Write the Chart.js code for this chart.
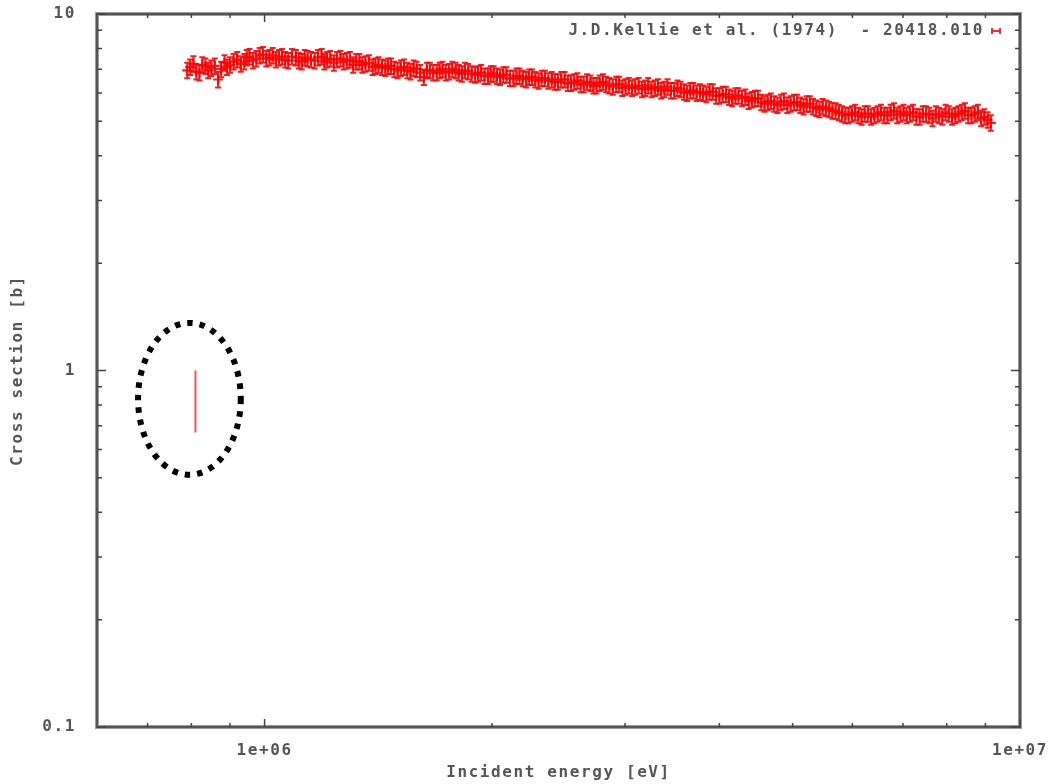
<!DOCTYPE html>
<html>
<head>
<meta charset="utf-8">
<script src="https://cdn.jsdelivr.net/npm/chart.js@4/dist/chart.umd.min.js"></script>
<style>
  html, body { margin: 0; padding: 0; background: #fff; }
  canvas { display: block; }
</style>
</head>
<body>
<canvas id="xsChart" width="1058" height="784"></canvas>
<script>
// incident energy in MeV (converted to eV for the axis), first pass of readings
const energyMeV = [
  0.79, 0.805, 0.82, 0.835, 0.85, 0.868, 0.885, 0.90, 0.92, 0.94,
  0.955, 0.975, 0.995, 1.015, 1.035, 1.055, 1.075, 1.10, 1.12, 1.14,
  1.165, 1.19, 1.21, 1.235, 1.26, 1.285, 1.31, 1.335, 1.36, 1.39,
  1.415, 1.445, 1.47, 1.50, 1.53, 1.56, 1.59, 1.625, 1.655, 1.69,
  1.72, 1.755, 1.79, 1.825, 1.86, 1.90, 1.935, 1.975, 2.01, 2.05,
  2.09, 2.135, 2.175, 2.22, 2.26, 2.305, 2.35, 2.40, 2.445, 2.495,
  2.545, 2.595, 2.645, 2.70, 2.75, 2.805, 2.86, 2.92, 2.975, 3.035,
  3.095, 3.16, 3.22, 3.285, 3.35, 3.415, 3.485, 3.555, 3.625, 3.695,
  3.77, 3.845, 3.92, 4.0, 4.08, 4.16, 4.24, 4.33, 4.415, 4.50,
  4.59, 4.68, 4.775, 4.87, 4.97, 5.07, 5.17, 5.27, 5.375, 5.48,
  5.59, 5.70, 5.815, 5.93, 6.05, 6.17, 6.29, 6.415, 6.545, 6.675,
  6.81, 6.945, 7.08, 7.22, 7.365, 7.51, 7.66, 7.815, 7.97, 8.13,
  8.29, 8.455, 8.625, 8.795, 8.97, 9.15
];
// cross section in barns
const crossSection = [
  6.95, 7.25, 6.85, 7.15, 7.05, 6.55, 7.30, 7.20, 7.45, 7.35,
  7.60, 7.50, 7.70, 7.55, 7.45, 7.60, 7.40, 7.55, 7.35, 7.50,
  7.40, 7.60, 7.45, 7.30, 7.50, 7.40, 7.20, 7.35, 7.25, 7.10,
  7.20, 7.05, 7.15, 6.95, 7.10, 6.90, 7.00, 6.65, 6.95, 6.85,
  7.00, 6.90, 6.95, 6.80, 6.90, 6.75, 6.85, 6.70, 6.80, 6.65,
  6.75, 6.60, 6.70, 6.55, 6.65, 6.50, 6.60, 6.55, 6.45, 6.55,
  6.40, 6.50, 6.35, 6.40, 6.30, 6.45, 6.30, 6.35, 6.20, 6.30,
  6.25, 6.15, 6.30, 6.20, 6.10, 6.25, 6.10, 6.15, 6.00, 6.10,
  6.05, 5.95, 6.05, 5.90, 5.95, 5.80, 5.90, 5.85, 5.75, 5.80,
  5.60, 5.70, 5.55, 5.70, 5.60, 5.65, 5.50, 5.60, 5.45, 5.50,
  5.40, 5.35, 5.25, 5.20, 5.30, 5.15, 5.25, 5.20, 5.30, 5.20,
  5.35, 5.25, 5.20, 5.30, 5.15, 5.25, 5.10, 5.20, 5.30, 5.15,
  5.25, 5.35, 5.20, 5.30, 5.15, 4.95
];
// second pass of readings, in between the first
const energyMeV2 = [
  0.797, 0.812, 0.827, 0.842, 0.859, 0.876, 0.892, 0.91, 0.93, 0.947,
  0.965, 0.985, 1.005, 1.025, 1.045, 1.065, 1.087, 1.11, 1.13, 1.152,
  1.177, 1.20, 1.222, 1.247, 1.272, 1.297, 1.322, 1.347, 1.375, 1.402,
  1.43, 1.457, 1.485, 1.515, 1.545, 1.575, 1.607, 1.64, 1.672, 1.705,
  1.737, 1.772, 1.807, 1.842, 1.88, 1.917, 1.955, 1.992, 2.03, 2.07,
  2.112, 2.155, 2.197, 2.24, 2.282, 2.327, 2.375, 2.422, 2.47, 2.52,
  2.57, 2.62, 2.672, 2.725, 2.777, 2.832, 2.89, 2.947, 3.005, 3.065,
  3.127, 3.19, 3.252, 3.317, 3.382, 3.45, 3.52, 3.59, 3.66, 3.732,
  3.807, 3.882, 3.96, 4.04, 4.12, 4.20, 4.285, 4.372, 4.457, 4.545,
  4.635, 4.727, 4.822, 4.92, 5.02, 5.12, 5.22, 5.322, 5.427, 5.535,
  5.645, 5.757, 5.872, 5.99, 6.11, 6.23, 6.352, 6.48, 6.61, 6.742,
  6.877, 7.012, 7.15, 7.292, 7.437, 7.585, 7.737, 7.892, 8.05, 8.21,
  8.372, 8.54, 8.71, 8.882, 9.06
];
const crossSection2 = [
  7.10, 6.90, 7.20, 6.95, 7.15, 7.00, 7.10, 7.35, 7.25, 7.55,
  7.40, 7.65, 7.50, 7.65, 7.55, 7.45, 7.60, 7.40, 7.55, 7.45,
  7.55, 7.35, 7.50, 7.45, 7.35, 7.45, 7.35, 7.20, 7.30, 7.15,
  7.10, 7.15, 7.00, 7.05, 6.95, 7.05, 6.85, 6.95, 6.85, 6.95,
  6.85, 7.00, 6.85, 6.95, 6.80, 6.80, 6.70, 6.80, 6.70, 6.75,
  6.60, 6.70, 6.60, 6.65, 6.55, 6.60, 6.50, 6.45, 6.55, 6.40,
  6.45, 6.35, 6.45, 6.30, 6.40, 6.35, 6.25, 6.35, 6.25, 6.20,
  6.30, 6.20, 6.15, 6.25, 6.15, 6.10, 6.20, 6.05, 6.10, 6.00,
  6.00, 6.05, 5.90, 5.95, 5.85, 5.90, 5.80, 5.70, 5.80, 5.65,
  5.65, 5.60, 5.65, 5.55, 5.65, 5.55, 5.60, 5.50, 5.40, 5.45,
  5.35, 5.30, 5.20, 5.25, 5.20, 5.25, 5.15, 5.25, 5.20, 5.30,
  5.20, 5.30, 5.25, 5.15, 5.25, 5.20, 5.25, 5.15, 5.25, 5.20,
  5.30, 5.20, 5.25, 5.10, 5.05
];
const relError = 0.05;

const seriesLabel = 'J.D.Kellie et al. (1974)  - 20418.010';

const xTicks = [1e6, 1e7];
const xTickLabels = ['1e+06', '1e+07'];
const yTicks = [0.1, 1, 10];
const yTickLabels = ['0.1', '1', '10'];
const xMinor = [7e5, 8e5, 9e5, 2e6, 3e6, 4e6, 5e6, 6e6, 7e6, 8e6, 9e6];
const yMinor = [0.2, 0.3, 0.4, 0.5, 0.6, 0.7, 0.8, 0.9, 2, 3, 4, 5, 6, 7, 8, 9];

// highlighted mark (red segment) and the dotted ring around it
const markEnergy = 8.1e5;
const markRange = [0.67, 1.0];
const ringEnergy = [6.8e5, 9.3e5];
const ringRange = [0.51, 1.36];

const points = energyMeV.map((e, i) => ({ x: e * 1e6, y: crossSection[i] }))
  .concat(energyMeV2.map((e, i) => ({ x: e * 1e6, y: crossSection2[i] })));

const textFont = { family: 'DejaVu Sans Mono', size: 16, weight: 'bold' };
const textColor = '#555';
const red = 'rgba(255,0,0,0.9)';

const framePlugin = {
  id: 'gnuplotFrame',
  beforeDraw(chart) {
    chart.ctx.letterSpacing = '1.6px';
  },
  beforeDatasetsDraw(chart) {
    const { ctx, scales: { x, y } } = chart;
    // error bars
    ctx.save();
    ctx.strokeStyle = red;
    ctx.lineWidth = 2;
    points.forEach(p => {
      const px = x.getPixelForValue(p.x);
      const y1 = y.getPixelForValue(p.y * (1 + relError));
      const y2 = y.getPixelForValue(p.y * (1 - relError));
      ctx.beginPath();
      ctx.moveTo(px, y1); ctx.lineTo(px, y2);
      ctx.moveTo(px - 3, y1); ctx.lineTo(px + 3, y1);
      ctx.moveTo(px - 3, y2); ctx.lineTo(px + 3, y2);
      ctx.stroke();
    });
    ctx.restore();
  },
  afterDatasetsDraw(chart) {
    const { ctx, chartArea: a, scales: { x, y } } = chart;
    ctx.save();
    // frame
    ctx.strokeStyle = '#9a9a9a';
    ctx.lineWidth = 4;
    ctx.strokeRect(a.left, a.top, a.right - a.left, a.bottom - a.top);
    ctx.strokeStyle = '#555';
    ctx.lineWidth = 2;
    ctx.strokeRect(a.left, a.top, a.right - a.left, a.bottom - a.top);
    // inward ticks on all four sides
    ctx.strokeStyle = '#444';
    ctx.lineWidth = 1.5;
    const tick = (v, len, axis) => {
      ctx.beginPath();
      if (axis === 'x') {
        const px = x.getPixelForValue(v);
        ctx.moveTo(px, a.bottom); ctx.lineTo(px, a.bottom - len);
        ctx.moveTo(px, a.top); ctx.lineTo(px, a.top + len);
      } else {
        const py = y.getPixelForValue(v);
        ctx.moveTo(a.left, py); ctx.lineTo(a.left + len, py);
        ctx.moveTo(a.right, py); ctx.lineTo(a.right - len, py);
      }
      ctx.stroke();
    };
    xMinor.forEach(v => tick(v, 4, 'x'));
    xTicks.forEach(v => tick(v, 8, 'x'));
    yMinor.forEach(v => tick(v, 5, 'y'));
    yTicks.forEach(v => tick(v, 9, 'y'));

    // key
    ctx.font = 'bold 16px "DejaVu Sans Mono"';
    ctx.fillStyle = textColor;
    ctx.textAlign = 'right';
    ctx.textBaseline = 'middle';
    ctx.fillText(seriesLabel, a.right - 36, a.top + 17);
    const kx = a.right - 24, ky = a.top + 17;
    ctx.strokeStyle = 'rgba(255,0,0,0.85)';
    ctx.lineWidth = 2;
    ctx.beginPath();
    ctx.moveTo(kx - 4, ky); ctx.lineTo(kx + 4, ky);
    ctx.moveTo(kx - 4, ky - 3); ctx.lineTo(kx - 4, ky + 3);
    ctx.moveTo(kx + 4, ky - 3); ctx.lineTo(kx + 4, ky + 3);
    ctx.stroke();

    // highlighted segment
    const mx = x.getPixelForValue(markEnergy);
    ctx.strokeStyle = 'rgba(255,50,50,0.85)';
    ctx.lineWidth = 2;
    ctx.beginPath();
    ctx.moveTo(mx, y.getPixelForValue(markRange[1]));
    ctx.lineTo(mx, y.getPixelForValue(markRange[0]));
    ctx.stroke();

    // dotted ring
    const l = x.getPixelForValue(ringEnergy[0]), r = x.getPixelForValue(ringEnergy[1]);
    const t = y.getPixelForValue(ringRange[1]), b = y.getPixelForValue(ringRange[0]);
    ctx.strokeStyle = '#000';
    ctx.lineWidth = 6;
    ctx.setLineDash([5.5, 7]);
    ctx.beginPath();
    ctx.ellipse((l + r) / 2, (t + b) / 2, (r - l) / 2, (b - t) / 2, 0, 0, Math.PI * 2);
    ctx.stroke();
    ctx.restore();
  }
};

new Chart(document.getElementById('xsChart'), {
  type: 'scatter',
  data: {
    datasets: [{
      label: seriesLabel,
      data: points,
      pointStyle: 'cross',
      radius: 5,
      borderWidth: 2.2,
      borderColor: red,
      backgroundColor: red,
      showLine: false,
    }],
  },
  options: {
    responsive: false,
    animation: false,
    devicePixelRatio: 1,
    layout: { padding: { top: 14, right: 38, left: 0, bottom: 0 } },
    plugins: {
      legend: { display: false },
      tooltip: { enabled: false },
    },
    scales: {
      x: {
        type: 'logarithmic',
        min: 6e5,
        max: 1e7,
        afterFit: s => { s.height = 57; s.paddingLeft = 0; s.paddingRight = 0; },
        afterBuildTicks: s => { s.ticks = xTicks.map(v => ({ value: v })); },
        ticks: {
          callback: (v, i) => xTickLabels[i],
          font: textFont, color: textColor,
          padding: 6, maxRotation: 0, autoSkip: false,
        },
        grid: { display: false },
        border: { display: false },
        title: {
          display: true, text: 'Incident energy [eV]',
          font: textFont, color: textColor,
          padding: { top: 0, bottom: 2 },
        },
      },
      y: {
        type: 'logarithmic',
        min: 0.1,
        max: 10,
        afterFit: s => { s.width = 97; s.paddingTop = 0; s.paddingBottom = 0; },
        afterBuildTicks: s => { s.ticks = yTicks.map(v => ({ value: v })); },
        ticks: {
          callback: (v, i) => yTickLabels[i],
          font: textFont, color: textColor,
          padding: 13, autoSkip: false,
        },
        grid: { display: false },
        border: { display: false },
        title: {
          display: true, text: 'Cross section [b]',
          font: textFont, color: textColor,
          padding: { top: 8, bottom: 0 },
        },
      },
    },
  },
  plugins: [framePlugin],
});
</script>
</body>
</html>
